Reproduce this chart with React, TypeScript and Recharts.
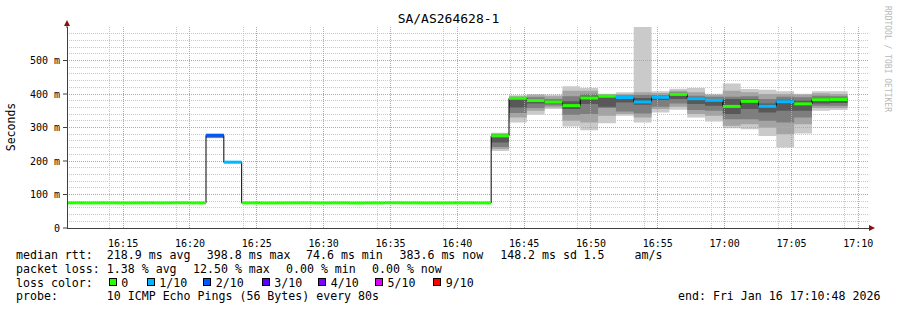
import React from 'react';
import {
  Area,
  CartesianGrid,
  ComposedChart,
  Line,
  ReferenceLine,
  XAxis,
  YAxis,
} from 'recharts';

const FONT = '"DejaVu Sans Mono", "Liberation Mono", monospace';

// time range and steps (80 s per smokeping step)
const RANGE_START = '16:10:48';
const RANGE_END = '17:10:48';
const FIRST_STEP = '16:10:32';
const STEP_SECONDS = 80;

const timeTicks = ['16:15', '16:20', '16:25', '16:30', '16:35', '16:40', '16:45', '16:50', '16:55', '17:00', '17:05', '17:10'];
const yTicks = [0, 100, 200, 300, 400, 500];
const yTickLabels = ['0', '100 m', '200 m', '300 m', '400 m', '500 m'];

// median rtt per step, ms
const medianRtt = [
  75.0, 74.9, 75.1, 74.8, 75.0, 74.9, 75.2, 74.9,
  277.0, 196.5,
  75.0, 74.7, 74.9, 75.1, 74.8, 75.0, 74.6, 74.9, 75.2, 75.0, 74.8, 74.9, 75.1, 74.9,
  275.0, 387.2, 380.4, 376.1, 365.3, 388.0, 393.4, 389.5, 376.2, 390.1,
  398.8, 386.0, 381.2, 363.0, 378.1, 363.4, 377.0, 370.6, 383.0, 383.6,
];

// lost pings (of 10) per step
const lostPings = [
  0, 0, 0, 0, 0, 0, 0, 0,
  2, 1,
  0, 0, 0, 0, 0, 0, 0, 0, 0, 0, 0, 0, 0, 0,
  0, 0, 0, 0, 0, 0, 0, 1, 1, 1,
  0, 1, 1, 0, 0, 1, 1, 0, 0, 0,
];

// sorted pings per step, ms: p1 p2 p3 p4 p7 p8 p9 p10
const smoke = [
  [74.4, 74.5, 74.6, 74.8, 75.1, 75.3, 75.4, 75.6],
  [74.4, 74.5, 74.6, 74.8, 75.1, 75.3, 75.4, 75.6],
  [74.4, 74.5, 74.6, 74.8, 75.1, 75.3, 75.4, 75.6],
  [74.4, 74.5, 74.6, 74.8, 75.1, 75.3, 75.4, 75.6],
  [74.4, 74.5, 74.6, 74.8, 75.1, 75.3, 75.4, 75.6],
  [74.4, 74.5, 74.6, 74.8, 75.1, 75.3, 75.4, 75.6],
  [74.4, 74.5, 74.6, 74.8, 75.1, 75.3, 75.4, 75.6],
  [74.4, 74.5, 74.6, 74.8, 75.1, 75.3, 75.4, 75.6],
  [268, 269, 270, 271, 278, 279, 279, 280],
  [193, 194, 194, 195, 198, 198, 199, 199],
  [74.4, 74.5, 74.6, 74.8, 75.1, 75.3, 75.4, 75.6],
  [74.4, 74.5, 74.6, 74.8, 75.1, 75.3, 75.4, 75.6],
  [74.4, 74.5, 74.6, 74.8, 75.1, 75.3, 75.4, 75.6],
  [74.4, 74.5, 74.6, 74.8, 75.1, 75.3, 75.4, 75.6],
  [74.4, 74.5, 74.6, 74.8, 75.1, 75.3, 75.4, 75.6],
  [74.4, 74.5, 74.6, 74.8, 75.1, 75.3, 75.4, 75.6],
  [74.4, 74.5, 74.6, 74.8, 75.1, 75.3, 75.4, 75.6],
  [74.4, 74.5, 74.6, 74.8, 75.1, 75.3, 75.4, 75.6],
  [74.4, 74.5, 74.6, 74.8, 75.1, 75.3, 75.4, 75.6],
  [74.4, 74.5, 74.6, 74.8, 75.1, 75.3, 75.4, 75.6],
  [74.4, 74.5, 74.6, 74.8, 75.1, 75.3, 75.4, 75.6],
  [74.4, 74.5, 74.6, 74.8, 75.1, 75.3, 75.4, 75.6],
  [74.4, 74.5, 74.6, 74.8, 75.1, 75.3, 75.4, 75.6],
  [74.4, 74.5, 74.6, 74.8, 75.1, 75.3, 75.4, 75.6],
  [230, 236, 242, 255, 277, 280, 282, 284],
  [315, 330, 343, 360, 389, 391, 393, 396],
  [338, 350, 358, 372, 383, 390, 396, 400],
  [355, 360, 366, 371, 380, 385, 393, 398],
  [303, 320, 338, 355, 378, 393, 410, 423],
  [292, 315, 340, 370, 395, 401, 410, 418],
  [313, 335, 358, 362, 395, 397, 399, 401],
  [335, 340, 348, 375, 392, 396, 400, 405],
  [315, 330, 342, 368, 388, 398, 405, 620],
  [345, 355, 362, 382, 393, 398, 403, 408],
  [353, 362, 372, 385, 402, 405, 410, 416],
  [330, 340, 352, 370, 390, 395, 405, 418],
  [318, 335, 350, 365, 385, 392, 397, 401],
  [298, 305, 325, 340, 385, 392, 410, 431],
  [295, 310, 325, 355, 385, 393, 405, 415],
  [275, 300, 320, 345, 372, 385, 400, 413],
  [240, 280, 315, 350, 383, 392, 400, 408],
  [282, 310, 330, 350, 380, 390, 398, 401],
  [350, 358, 365, 372, 388, 395, 402, 408],
  [352, 358, 365, 373, 387, 393, 400, 408],
];

const lossLegend = [
  { lost: 0, label: '0', color: '#26ff00' },
  { lost: 1, label: '1/10', color: '#00b8ff' },
  { lost: 2, label: '2/10', color: '#0059ff' },
  { lost: 3, label: '3/10', color: '#5e00ff' },
  { lost: 4, label: '4/10', color: '#7e00ff' },
  { lost: 5, label: '5/10', color: '#dd00ff' },
  { lost: 9, label: '9/10', color: '#ff0000' },
];

const smokeShades = ['#cacaca', '#a4a4a4', '#7e7e7e', '#585858'];
const MINOR_GRID = '#c8c8c8';
const MAJOR_GRID = '#f28c8c';

const toSec = (t: string) => {
  const [h, m, s = 0] = t.split(':').map(Number);
  return h * 3600 + m * 60 + s;
};

const fmtTime = (v: number) => {
  const h = Math.floor(v / 3600);
  const m = Math.floor((v % 3600) / 60);
  return `${h}:${String(m).padStart(2, '0')}`;
};

const lossColor = (lost: number) => {
  let c = lossLegend[0].color;
  for (const l of lossLegend) if (lost >= l.lost) c = l.color;
  return c;
};

const start = toSec(RANGE_START);
const end = toSec(RANGE_END);
const firstStep = toSec(FIRST_STEP);

const rows = medianRtt.map((median, i) => ({
  time: firstStep + i * STEP_SECONDS,
  median,
  lost: lostPings[i],
  p: smoke[i],
}));
// closing point for the last step
rows.push({ ...rows[rows.length - 1], time: firstStep + medianRtt.length * STEP_SECONDS });

const xTickValues = timeTicks.map(toSec);
const xMinor: number[] = [];
for (let t = Math.ceil(start / 60) * 60; t < end; t += 60) if (!xTickValues.includes(t)) xMinor.push(t);
const yMinor: number[] = [];
for (let v = 20; v < 600; v += 20) if (v % 100 !== 0) yMinor.push(v);

const textStyle: React.CSSProperties = {
  position: 'absolute',
  fontFamily: FONT,
  fontSize: 11.6,
  lineHeight: '14px',
  whiteSpace: 'pre',
  color: '#000',
};

const legendLines: { y: number; items: [number, string][] }[] = [
  {
    y: 248,
    items: [
      [16, 'median rtt:'],
      [106.8, '218.9 ms avg'],
      [206.8, '398.8 ms max'],
      [306, '74.6 ms min'],
      [399.5, '383.6 ms now'],
      [500.2, '148.2 ms sd'],
      [583.5, '1.5'],
      [634.5, 'am/s'],
    ],
  },
  {
    y: 261.5,
    items: [
      [16, 'packet loss:'],
      [106.8, '1.38 % avg'],
      [193, '12.50 % max'],
      [286, '0.00 % min'],
      [372, '0.00 % now'],
    ],
  },
  {
    y: 289,
    items: [
      [16, 'probe:'],
      [106.8, '10 ICMP Echo Pings (56 Bytes) every 80s'],
      [678, 'end: Fri Jan 16 17:10:48 2026'],
    ],
  },
];

const swatchX = [108.7, 146.7, 203.3, 261.7, 318.3, 375, 433.3];

export default function App() {
  return (
    <div style={{ position: 'absolute', left: 0, top: 0, width: 897, height: 310, background: '#fff', overflow: 'hidden' }}>
      <ComposedChart
        width={897}
        height={310}
        data={rows}
        margin={{ top: 27, right: 28, left: 7, bottom: 62 }}
      >
        <CartesianGrid
          horizontalValues={yMinor}
          verticalValues={xMinor}
          stroke={MINOR_GRID}
          strokeDasharray="1 1"
          shapeRendering="crispEdges"
        />
        <XAxis
          dataKey="time"
          type="number"
          domain={[start, end]}
          allowDataOverflow
          ticks={xTickValues}
          tickFormatter={fmtTime}
          tick={{ fontSize: 10, fontFamily: FONT, fill: '#000' }}
          tickLine={false}
          tickMargin={6}
          axisLine={{ stroke: '#404040', shapeRendering: 'crispEdges' }}
          height={20}
        />
        <YAxis
          type="number"
          domain={[0, 600]}
          allowDataOverflow
          ticks={yTicks}
          tickFormatter={(v: number) => yTickLabels[yTicks.indexOf(v)]}
          tick={{ fontSize: 10, fontFamily: FONT, fill: '#000' }}
          tickSize={4}
          tickMargin={3}
          tickLine={{ stroke: '#404040' }}
          axisLine={{ stroke: '#404040', shapeRendering: 'crispEdges' }}
          width={60}
        />
        {smokeShades.map((shade, b) => (
          <Area
            key={shade}
            type="stepAfter"
            dataKey={(d: any) => [d.p[b], d.p[7 - b]]}
            stroke="none"
            fill={shade}
            fillOpacity={1}
            isAnimationActive={false}
          />
        ))}
        {yTicks.slice(1).map((v) => (
          <ReferenceLine
            key={`h${v}`}
            segment={[{ x: start, y: v }, { x: end, y: v }]}
            stroke={MAJOR_GRID}
            strokeDasharray="1 1"
            shapeRendering="crispEdges"
            ifOverflow="hidden"
          />
        ))}
        {xTickValues.map((v) => (
          <ReferenceLine
            key={`v${v}`}
            segment={[{ x: v, y: 0 }, { x: v, y: 600 }]}
            stroke={MAJOR_GRID}
            strokeDasharray="1 1"
            shapeRendering="crispEdges"
            ifOverflow="hidden"
          />
        ))}
        <Line
          type="stepAfter"
          dataKey="median"
          stroke="#000"
          strokeWidth={1}
          dot={false}
          isAnimationActive={false}
        />
        {rows.slice(0, -1).map((r, i) => (
          <ReferenceLine
            key={r.time}
            segment={[
              { x: r.time, y: r.median },
              { x: rows[i + 1].time, y: r.median },
            ]}
            stroke={lossColor(r.lost)}
            strokeWidth={3}
            ifOverflow="hidden"
          />
        ))}
      </ComposedChart>

      <svg width={897} height={310} style={{ position: 'absolute', left: 0, top: 0, pointerEvents: 'none' }}>
        <line x1={67} y1={24} x2={67} y2={28} stroke="#404040" />
        <polygon points="64,26 70,26 67,20" fill="#8b1010" />
        <polygon points="869,225 869,231 875,228" fill="#8b1010" />
      </svg>

      <div style={{ ...textStyle, fontSize: 13, left: 0, width: 897, top: 12, textAlign: 'center' }}>
        SA/AS264628-1
      </div>
      <div
        style={{
          ...textStyle,
          fontSize: 11.5,
          left: 11,
          top: 127,
          transform: 'translate(-50%, -50%) rotate(-90deg)',
        }}
      >
        Seconds
      </div>
      <div
        style={{
          ...textStyle,
          fontSize: 8,
          color: '#b8b8b8',
          left: 887,
          top: 59,
          transform: 'translate(-50%, -50%) rotate(90deg)',
        }}
      >
        RRDTOOL / TOBI OETIKER
      </div>

      {legendLines.map((line) =>
        line.items.map(([x, t]) => (
          <div key={`${line.y}-${x}`} style={{ ...textStyle, left: x, top: line.y }}>
            {t}
          </div>
        )),
      )}
      <div style={{ ...textStyle, left: 16, top: 275.5 }}>loss color:</div>
      {lossLegend.map((l, i) => (
        <React.Fragment key={l.label}>
          <div
            style={{
              position: 'absolute',
              left: swatchX[i],
              top: 278,
              width: 6,
              height: 6,
              background: l.color,
              border: '1px solid #000',
            }}
          />
          <div style={{ ...textStyle, left: swatchX[i] + 12.5, top: 275.5 }}>{l.label}</div>
        </React.Fragment>
      ))}
    </div>
  );
}
